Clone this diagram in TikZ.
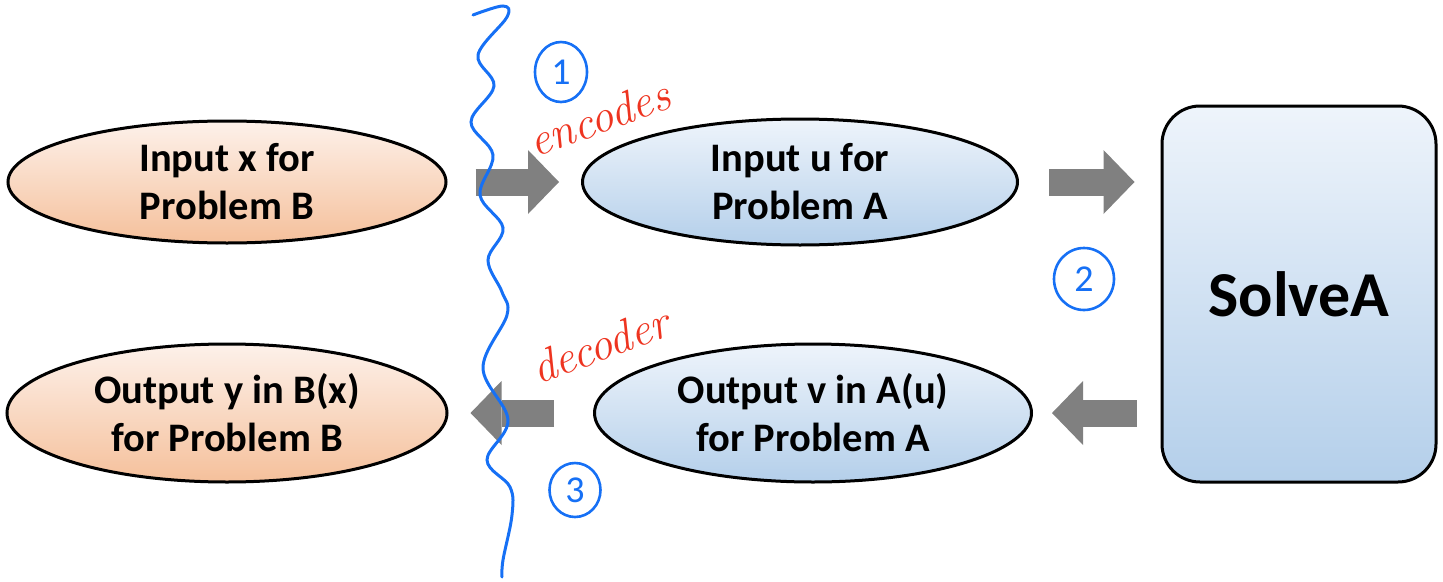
\documentclass[tikz,border=0pt]{standalone}
\usepackage{fontspec}
\setsansfont{Carlito}
\usepackage{tikz}
\usetikzlibrary{shapes.geometric}
\usetikzlibrary{arrows.meta}
\definecolor{peachtop}{RGB}{253,241,234}
\definecolor{peachbot}{RGB}{245,192,155}
\definecolor{skytop}{RGB}{238,244,251}
\definecolor{skybot}{RGB}{180,207,234}
\definecolor{arrowgray}{RGB}{128,128,128}
\definecolor{penblue}{RGB}{22,112,245}
\definecolor{penred}{RGB}{238,52,32}

\begin{document}
\begin{tikzpicture}[x=1pt,y=-1pt,
  bubble/.style={ellipse,draw,line width=3pt,align=center,inner sep=0pt,
    font=\sffamily\bfseries\fontsize{40.5}{48}\selectfont},
  probB/.style={bubble,top color=peachtop,bottom color=peachbot},
  probA/.style={bubble,top color=skytop,bottom color=skybot},
  fatarrow/.style={color=arrowgray,line width=27pt,
    -{Triangle[line width=0pt,length=31pt 0,width=64pt 0,fill=arrowgray]}},
  hand/.style={text=penred,inner sep=0pt,font=\rmfamily\itshape\fontsize{46}{46}\selectfont},
  num/.style={ellipse,draw=penblue,line width=2.6pt,text=penblue,inner sep=0pt,
    font=\sffamily\fontsize{38}{38}\selectfont}]
  \useasboundingbox (0,0) rectangle (1443,581);
  % the four problem instances
  \node[probB,minimum width=438pt,minimum height=122pt] (inB) at (227,182) {Input x for\\Problem B};
  \node[probA,minimum width=435pt,minimum height=126pt] (inA) at (800,182) {Input u for\\Problem A};
  \node[probB,minimum width=440pt,minimum height=138pt] (outB) at (227,413) {Output y in B(x)\\for Problem B};
  \node[probA,minimum width=437pt,minimum height=138pt] (outA) at (813,413) {Output v in A(u)\\for Problem A};
  \node[rectangle,rounded corners=38pt,draw,line width=3pt,top color=skytop,bottom color=skybot,
    minimum width=274pt,minimum height=376pt,font=\sffamily\bfseries\fontsize{64}{64}\selectfont]
    (solve) at (1299,294) {SolveA};
  \path[fatarrow]
    (inB) edge[shorten <=28pt,shorten >=22pt] (inA)
    (inA.east) edge[shorten <=30pt,shorten >=26pt] (inA.east -| solve.west)
    (outA.east -| solve.west) edge[shorten <=24pt,shorten >=19pt] (outA.east)
    (outA) edge[shorten <=39pt,shorten >=22pt] (outB);
  % pen notes
  \draw[penblue,line width=3pt,line cap=round] plot[smooth,tension=0.6] coordinates {
    (473,15) (503,6) (507,17) (478,55) (494,86) (471,122) (493,155) (480,195)
    (503,228) (488,260) (502,292) (507,315) (483,368) (508,420) (487,460)
    (510,487) (512,515) (503,560) (502,577)};
  \node[num,minimum width=52pt,minimum height=60pt] (one) at (561,72) {1};
  \node[num,minimum width=60pt,minimum height=62pt] (two) at (1084,279) {2};
  \node[num,minimum width=51pt,minimum height=54pt] (three) at (575,490) {3};
  \node[hand,rotate=20] (enc) at (599,118) {encodes};
  \node[hand,rotate=20] (dec) at (600,345) {decoder};
\end{tikzpicture}
\end{document}
